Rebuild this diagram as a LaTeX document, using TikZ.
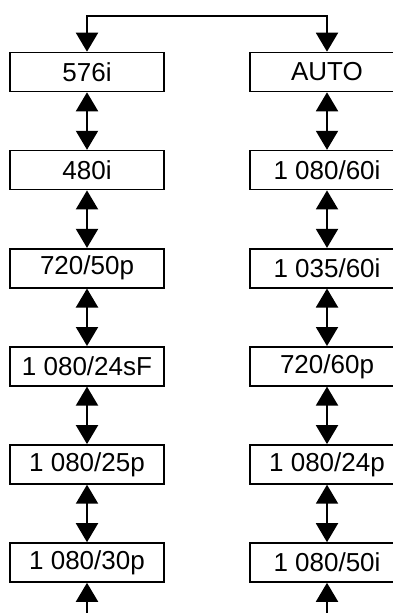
\documentclass[tikz,border=0pt]{standalone}
\usepackage{fontspec}
\setmainfont{Liberation Sans}
\usetikzlibrary{arrows.meta}

\begin{document}
\begin{tikzpicture}[x=1pt,y=-1pt,
  modebox/.style={draw, line width=1.6pt, minimum width=154pt, minimum height=39pt,
    inner sep=0pt, font=\fontsize{26}{30}\selectfont},
  tip/.style={Triangle[length=19pt,width=22pt]},
  link/.style={line width=2pt, {Triangle[length=19pt,width=22pt]}-{Triangle[length=19pt,width=22pt]}}]
\useasboundingbox (0,0) rectangle (393,613);
\def\dy{98.1}

% left column
\foreach \k/\name/\txt in {0/L1/576i,1/L2/480i,2/L3/{720/50p},3/L4/{1 080/24sF},4/L5/{1 080/25p},5/L6/{1 080/30p}}{
  \node[modebox] (\name) at (87,{72+\k*\dy}) {\txt};
}
% right column
\foreach \k/\name/\txt in {0/R1/AUTO,1/R2/{1 080/60i},2/R3/{1 035/60i},3/R4/{720/60p},4/R5/{1 080/24p},5/R6/{1 080/50i}}{
  \node[modebox] (\name) at (327,{72+\k*\dy}) {\txt};
}

\coordinate (TL) at (87,16);
\coordinate (TR) at (327,16);
\coordinate (BL) at (87,613);
\coordinate (BR) at (327,613);

\draw[line width=2pt, -{Triangle[length=19pt,width=22pt]}] (TR) -- (TL) -- (L1.north);
\draw[line width=2pt, -{Triangle[length=19pt,width=22pt]}] (TL) -- (TR) -- (R1.north);

\foreach \a/\b in {L1/L2,L2/L3,L3/L4,L4/L5,L5/L6,R1/R2,R2/R3,R3/R4,R4/R5,R5/R6}{
  \draw[link] (\a.south) -- (\b.north);
}

\draw[line width=2pt, -{Triangle[length=19pt,width=22pt]}] (BL) -- (L6.south);
\draw[line width=2pt, -{Triangle[length=19pt,width=22pt]}] (BR) -- (R6.south);
\end{tikzpicture}
\end{document}
